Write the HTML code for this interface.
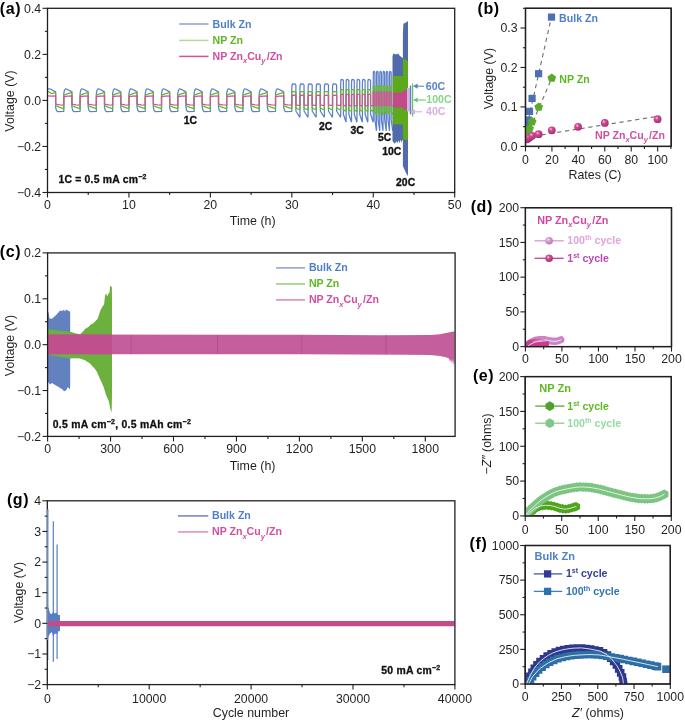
<!DOCTYPE html>
<html><head><meta charset="utf-8"><style>
html,body{margin:0;padding:0;background:#fff;}
svg{display:block;font-family:"Liberation Sans", sans-serif;will-change:transform;}
</style></head><body>
<svg width="685" height="722" viewBox="0 0 685 722">
<rect width="685" height="722" fill="#fff"/>
<defs>
<clipPath id="clipd"><rect x="525.4" y="207.7" width="146" height="138.9"/></clipPath><clipPath id="clipe"><rect x="525.2" y="376.6" width="146" height="139.3"/></clipPath><clipPath id="clipf"><rect x="525.2" y="545.5" width="145" height="138.5"/></clipPath>
<clipPath id="clipb"><rect x="525.5" y="8.3" width="145.7" height="138.1"/></clipPath>
<clipPath id="clipa"><rect x="47.5" y="8.3" width="407.2" height="184.2"/></clipPath>
<radialGradient id="gp" cx="0.38" cy="0.35" r="0.65"><stop offset="0" stop-color="#f5c9e2"/><stop offset="0.35" stop-color="#cf4a96"/><stop offset="1" stop-color="#a8306f"/></radialGradient>
<radialGradient id="glp" cx="0.38" cy="0.35" r="0.65"><stop offset="0" stop-color="#fbe8f6"/><stop offset="0.35" stop-color="#d99bd6"/><stop offset="1" stop-color="#bf78b9"/></radialGradient>
</defs><g clip-path="url(#clipa)">
<path d="M47.5 88.43 L47.5 88.43 L48.31 88.89 L49.13 88.89 L50.35 89 L55.64 91.88 L55.64 107.31 L56.46 110.55 L57.68 111.68 L63.79 111.34 L63.79 107.17 L63.79 93.49 L64.44 90.27 L65.42 88.89 L66.64 89 L71.93 91.88 L71.93 107.31 L72.75 110.55 L73.97 111.68 L80.08 111.34 L80.08 107.17 L80.08 93.49 L80.73 90.27 L81.7 88.89 L82.93 89 L88.22 91.88 L88.22 107.31 L89.03 110.55 L90.26 111.68 L96.36 111.34 L96.36 107.17 L96.36 93.49 L97.02 90.27 L97.99 88.89 L99.21 89 L104.51 91.88 L104.51 107.31 L105.32 110.55 L106.54 111.68 L112.65 111.34 L112.65 107.17 L112.65 93.49 L113.3 90.27 L114.28 88.89 L115.5 89 L120.8 91.88 L120.8 107.31 L121.61 110.55 L122.83 111.68 L128.94 111.34 L128.94 107.17 L128.94 93.49 L129.59 90.27 L130.57 88.89 L131.79 89 L137.08 91.88 L137.08 107.31 L137.9 110.55 L139.12 111.68 L145.23 111.34 L145.23 107.17 L145.23 93.49 L145.88 90.27 L146.86 88.89 L148.08 89 L153.37 91.88 L153.37 107.31 L154.19 110.55 L155.41 111.68 L161.52 111.34 L161.52 107.17 L161.52 93.49 L162.17 90.27 L163.14 88.89 L164.37 89 L169.66 91.88 L169.66 107.31 L170.47 110.55 L171.7 111.68 L177.8 111.34 L177.8 107.17 L177.8 93.49 L178.46 90.27 L179.43 88.89 L180.65 89 L185.95 91.88 L185.95 107.31 L186.76 110.55 L187.98 111.68 L194.09 111.34 L194.09 107.17 L194.09 93.49 L194.74 90.27 L195.72 88.89 L196.94 89 L202.24 91.88 L202.24 107.31 L203.05 110.55 L204.27 111.68 L210.38 111.34 L210.38 107.17 L210.38 93.49 L211.03 90.27 L212.01 88.89 L213.23 89 L218.52 91.88 L218.52 107.31 L219.34 110.55 L220.56 111.68 L226.67 111.34 L226.67 107.17 L226.67 93.49 L227.32 90.27 L228.3 88.89 L229.52 89 L234.81 91.88 L234.81 107.31 L235.63 110.55 L236.85 111.68 L242.96 111.34 L242.96 107.17 L242.96 93.49 L243.61 90.27 L244.58 88.89 L245.81 89 L251.1 91.88 L251.1 107.31 L251.91 110.55 L253.14 111.68 L259.24 111.34 L259.24 107.17 L259.24 93.49 L259.9 90.27 L260.87 88.89 L262.09 89 L267.39 91.88 L267.39 107.31 L268.2 110.55 L269.42 111.68 L275.53 111.34 L275.53 107.17 L275.53 93.49 L276.18 90.27 L277.16 88.89 L278.38 89 L283.68 91.88 L283.68 107.31 L284.49 110.55 L285.71 111.68 L291.82 111.34 L291.82 87.14 L292.15 84.32 L292.63 83.82 L295.28 84.07 L295.89 85.2 L295.89 110.99 L299.64 116.98 L299.96 116.65 L299.96 87.14 L300.29 84.32 L300.78 83.82 L303.43 84.07 L304.04 85.2 L304.04 110.99 L307.78 116.98 L308.11 116.65 L308.11 87.14 L308.43 84.32 L308.92 83.82 L311.57 84.07 L312.18 85.2 L312.18 110.99 L315.93 116.98 L316.25 116.65 L316.25 87.14 L316.58 84.32 L317.07 83.82 L319.71 84.07 L320.32 85.2 L320.32 110.99 L324.07 116.98 L324.4 116.65 L324.4 87.14 L324.72 84.32 L325.21 83.82 L327.86 84.07 L328.47 85.2 L328.47 110.99 L332.21 116.98 L332.54 116.65 L332.54 87.14 L332.87 84.32 L333.35 83.82 L336 84.07 L336.61 85.2 L336.61 110.99 L340.36 116.98 L340.68 116.65 L340.68 83.64 L340.9 80.08 L341.23 79.45 L342.99 79.76 L343.4 81.06 L343.4 114.22 L345.9 121.81 L346.11 121.38 L346.11 83.64 L346.33 80.08 L346.66 79.45 L348.42 79.76 L348.83 81.06 L348.83 114.22 L351.33 121.81 L351.54 121.38 L351.54 83.64 L351.76 80.08 L352.09 79.45 L353.85 79.76 L354.26 81.06 L354.26 114.22 L356.75 121.81 L356.97 121.38 L356.97 83.64 L357.19 80.08 L357.51 79.45 L359.28 79.76 L359.69 81.06 L359.69 114.22 L362.18 121.81 L362.4 121.38 L362.4 83.64 L362.62 80.08 L362.94 79.45 L364.71 79.76 L365.12 81.06 L365.12 114.22 L367.61 121.81 L367.83 121.38 L367.83 83.64 L368.05 80.08 L368.37 79.45 L370.14 79.76 L370.55 81.06 L370.55 114.22 L373.04 121.81 L373.26 121.38 L373.26 77.19 L373.39 72.26 L373.59 71.39 L374.64 71.82 L374.89 73.46 L374.89 119.97 L376.39 130.33 L376.52 129.73 L376.52 77.19 L376.65 72.26 L376.84 71.39 L377.9 71.82 L378.15 73.46 L378.15 119.97 L379.64 130.33 L379.78 129.73 L379.78 77.19 L379.91 72.26 L380.1 71.39 L381.16 71.82 L381.4 73.46 L381.4 119.97 L382.9 130.33 L383.03 129.73 L383.03 77.19 L383.16 72.26 L383.36 71.39 L384.42 71.82 L384.66 73.46 L384.66 119.97 L386.16 130.33 L386.29 129.73 L386.29 77.19 L386.42 72.26 L386.62 71.39 L387.67 71.82 L387.92 73.46 L387.92 119.97 L389.42 130.33 L389.55 129.73 L389.55 77.19 L389.68 72.26 L389.87 71.39 L390.93 71.82 L391.18 73.46 L391.18 119.97 L392.68 130.33 L392.81 129.73" stroke="#5b80c8" stroke-width="1.25" fill="none" stroke-linejoin="round"/>
<path d="M47.5 91.19 L47.91 91.19 L51.57 93.61 L55.64 92.57 L55.64 105.17 L55.97 105.7 L59.72 107.42 L63.79 108.69 L63.79 95.63 L64.11 95.1 L67.86 93.61 L71.93 92.57 L71.93 105.17 L72.26 105.7 L76 107.42 L80.08 108.69 L80.08 95.63 L80.4 95.1 L84.15 93.61 L88.22 92.57 L88.22 105.17 L88.55 105.7 L92.29 107.42 L96.36 108.69 L96.36 95.63 L96.69 95.1 L100.44 93.61 L104.51 92.57 L104.51 105.17 L104.83 105.7 L108.58 107.42 L112.65 108.69 L112.65 95.63 L112.98 95.1 L116.72 93.61 L120.8 92.57 L120.8 105.17 L121.12 105.7 L124.87 107.42 L128.94 108.69 L128.94 95.63 L129.27 95.1 L133.01 93.61 L137.08 92.57 L137.08 105.17 L137.41 105.7 L141.16 107.42 L145.23 108.69 L145.23 95.63 L145.55 95.1 L149.3 93.61 L153.37 92.57 L153.37 105.17 L153.7 105.7 L157.44 107.42 L161.52 108.69 L161.52 95.63 L161.84 95.1 L165.59 93.61 L169.66 92.57 L169.66 105.17 L169.99 105.7 L173.73 107.42 L177.8 108.69 L177.8 95.63 L178.13 95.1 L181.88 93.61 L185.95 92.57 L185.95 105.17 L186.27 105.7 L190.02 107.42 L194.09 108.69 L194.09 95.63 L194.42 95.1 L198.16 93.61 L202.24 92.57 L202.24 105.17 L202.56 105.7 L206.31 107.42 L210.38 108.69 L210.38 95.63 L210.71 95.1 L214.45 93.61 L218.52 92.57 L218.52 105.17 L218.85 105.7 L222.6 107.42 L226.67 108.69 L226.67 95.63 L226.99 95.1 L230.74 93.61 L234.81 92.57 L234.81 105.17 L235.14 105.7 L238.88 107.42 L242.96 108.69 L242.96 95.63 L243.28 95.1 L247.03 93.61 L251.1 92.57 L251.1 105.17 L251.43 105.7 L255.17 107.42 L259.24 108.69 L259.24 95.63 L259.57 95.1 L263.32 93.61 L267.39 92.57 L267.39 105.17 L267.71 105.7 L271.46 107.42 L275.53 108.69 L275.53 95.63 L275.86 95.1 L279.6 93.61 L283.68 92.57 L283.68 105.17 L284 105.7 L287.75 107.42 L291.82 108.69 L291.82 92.53 L291.98 91.65 L293.86 91.65 L295.89 92.11 L295.89 107.24 L296.05 108 L297.93 109.03 L299.96 109.61 L299.96 92.53 L300.13 91.65 L302 91.65 L304.04 92.11 L304.04 107.24 L304.2 108 L306.07 109.03 L308.11 109.61 L308.11 92.53 L308.27 91.65 L310.14 91.65 L312.18 92.11 L312.18 107.24 L312.34 108 L314.22 109.03 L316.25 109.61 L316.25 92.53 L316.41 91.65 L318.29 91.65 L320.32 92.11 L320.32 107.24 L320.49 108 L322.36 109.03 L324.4 109.61 L324.4 92.53 L324.56 91.65 L326.43 91.65 L328.47 92.11 L328.47 107.24 L328.63 108 L330.5 109.03 L332.54 109.61 L332.54 92.53 L332.7 91.65 L334.58 91.65 L336.61 92.11 L336.61 107.24 L336.77 108 L338.65 109.03 L340.68 109.61 L340.68 90.66 L340.79 89.58 L342.04 89.58 L343.4 90.04 L343.4 108.69 L343.51 109.61 L344.76 110.76 L346.11 111.45 L346.11 90.66 L346.22 89.58 L347.47 89.58 L348.83 90.04 L348.83 108.69 L348.94 109.61 L350.19 110.76 L351.54 111.45 L351.54 90.66 L351.65 89.58 L352.9 89.58 L354.26 90.04 L354.26 108.69 L354.37 109.61 L355.61 110.76 L356.97 111.45 L356.97 90.66 L357.08 89.58 L358.33 89.58 L359.69 90.04 L359.69 108.69 L359.8 109.61 L361.04 110.76 L362.4 111.45 L362.4 90.66 L362.51 89.58 L363.76 89.58 L365.12 90.04 L365.12 108.69 L365.22 109.61 L366.47 110.76 L367.83 111.45 L367.83 90.66 L367.94 89.58 L369.19 89.58 L370.55 90.04 L370.55 108.69 L370.65 109.61 L371.9 110.76 L373.26 111.45 L373.26 87.34 L373.33 85.89 L374.07 86.01 L374.89 86.59 L374.89 110.76 L374.95 111.91 L375.7 113.29 L376.52 114.22 L376.52 87.34 L376.58 85.89 L377.33 86.01 L378.15 86.59 L378.15 110.76 L378.21 111.91 L378.96 113.29 L379.78 114.22 L379.78 87.34 L379.84 85.89 L380.59 86.01 L381.4 86.59 L381.4 110.76 L381.47 111.91 L382.22 113.29 L383.03 114.22 L383.03 87.34 L383.1 85.89 L383.85 86.01 L384.66 86.59 L384.66 110.76 L384.73 111.91 L385.48 113.29 L386.29 114.22 L386.29 87.34 L386.36 85.89 L387.1 86.01 L387.92 86.59 L387.92 110.76 L387.98 111.91 L388.73 113.29 L389.55 114.22 L389.55 87.34 L389.61 85.89 L390.36 86.01 L391.18 86.59 L391.18 110.76 L391.24 111.91 L391.99 113.29 L392.81 114.22" stroke="#62b832" stroke-width="1.25" fill="none" stroke-linejoin="round"/>
<path d="M47.5 95.8 L47.91 95.8 L51.57 96.03 L55.64 95.8 L55.64 103.72 L55.97 104.08 L59.72 104.77 L63.79 105.01 L63.79 97.08 L64.11 96.72 L67.86 96.03 L71.93 95.8 L71.93 103.72 L72.26 104.08 L76 104.77 L80.08 105.01 L80.08 97.08 L80.4 96.72 L84.15 96.03 L88.22 95.8 L88.22 103.72 L88.55 104.08 L92.29 104.77 L96.36 105.01 L96.36 97.08 L96.69 96.72 L100.44 96.03 L104.51 95.8 L104.51 103.72 L104.83 104.08 L108.58 104.77 L112.65 105.01 L112.65 97.08 L112.98 96.72 L116.72 96.03 L120.8 95.8 L120.8 103.72 L121.12 104.08 L124.87 104.77 L128.94 105.01 L128.94 97.08 L129.27 96.72 L133.01 96.03 L137.08 95.8 L137.08 103.72 L137.41 104.08 L141.16 104.77 L145.23 105.01 L145.23 97.08 L145.55 96.72 L149.3 96.03 L153.37 95.8 L153.37 103.72 L153.7 104.08 L157.44 104.77 L161.52 105.01 L161.52 97.08 L161.84 96.72 L165.59 96.03 L169.66 95.8 L169.66 103.72 L169.99 104.08 L173.73 104.77 L177.8 105.01 L177.8 97.08 L178.13 96.72 L181.88 96.03 L185.95 95.8 L185.95 103.72 L186.27 104.08 L190.02 104.77 L194.09 105.01 L194.09 97.08 L194.42 96.72 L198.16 96.03 L202.24 95.8 L202.24 103.72 L202.56 104.08 L206.31 104.77 L210.38 105.01 L210.38 97.08 L210.71 96.72 L214.45 96.03 L218.52 95.8 L218.52 103.72 L218.85 104.08 L222.6 104.77 L226.67 105.01 L226.67 97.08 L226.99 96.72 L230.74 96.03 L234.81 95.8 L234.81 103.72 L235.14 104.08 L238.88 104.77 L242.96 105.01 L242.96 97.08 L243.28 96.72 L247.03 96.03 L251.1 95.8 L251.1 103.72 L251.43 104.08 L255.17 104.77 L259.24 105.01 L259.24 97.08 L259.57 96.72 L263.32 96.03 L267.39 95.8 L267.39 103.72 L267.71 104.08 L271.46 104.77 L275.53 105.01 L275.53 97.08 L275.86 96.72 L279.6 96.03 L283.68 95.8 L283.68 103.72 L284 104.08 L287.75 104.77 L291.82 105.01 L291.82 96.05 L291.98 95.56 L293.86 95.22 L295.89 95.33 L295.89 104.34 L296.05 104.77 L297.93 105.35 L299.96 105.47 L299.96 96.05 L300.13 95.56 L302 95.22 L304.04 95.33 L304.04 104.34 L304.2 104.77 L306.07 105.35 L308.11 105.47 L308.11 96.05 L308.27 95.56 L310.14 95.22 L312.18 95.33 L312.18 104.34 L312.34 104.77 L314.22 105.35 L316.25 105.47 L316.25 96.05 L316.41 95.56 L318.29 95.22 L320.32 95.33 L320.32 104.34 L320.49 104.77 L322.36 105.35 L324.4 105.47 L324.4 96.05 L324.56 95.56 L326.43 95.22 L328.47 95.33 L328.47 104.34 L328.63 104.77 L330.5 105.35 L332.54 105.47 L332.54 96.05 L332.7 95.56 L334.58 95.22 L336.61 95.33 L336.61 104.34 L336.77 104.77 L338.65 105.35 L340.68 105.47 L340.68 95.22 L340.79 94.64 L342.04 94.3 L343.4 94.41 L343.4 104.75 L343.51 105.24 L344.76 105.81 L346.11 105.93 L346.11 95.22 L346.22 94.64 L347.47 94.3 L348.83 94.41 L348.83 104.75 L348.94 105.24 L350.19 105.81 L351.54 105.93 L351.54 95.22 L351.65 94.64 L352.9 94.3 L354.26 94.41 L354.26 104.75 L354.37 105.24 L355.61 105.81 L356.97 105.93 L356.97 95.22 L357.08 94.64 L358.33 94.3 L359.69 94.41 L359.69 104.75 L359.8 105.24 L361.04 105.81 L362.4 105.93 L362.4 95.22 L362.51 94.64 L363.76 94.3 L365.12 94.41 L365.12 104.75 L365.22 105.24 L366.47 105.81 L367.83 105.93 L367.83 95.22 L367.94 94.64 L369.19 94.3 L370.55 94.41 L370.55 104.75 L370.65 105.24 L371.9 105.81 L373.26 105.93 L373.26 93.15 L373.33 92.34 L374.07 92 L374.89 92.11 L374.89 104.54 L374.95 105.01 L375.7 105.7 L376.52 105.93 L376.52 93.15 L376.58 92.34 L377.33 92 L378.15 92.11 L378.15 104.54 L378.21 105.01 L378.96 105.7 L379.78 105.93 L379.78 93.15 L379.84 92.34 L380.59 92 L381.4 92.11 L381.4 104.54 L381.47 105.01 L382.22 105.7 L383.03 105.93 L383.03 93.15 L383.1 92.34 L383.85 92 L384.66 92.11 L384.66 104.54 L384.73 105.01 L385.48 105.7 L386.29 105.93 L386.29 93.15 L386.36 92.34 L387.1 92 L387.92 92.11 L387.92 104.54 L387.98 105.01 L388.73 105.7 L389.55 105.93 L389.55 93.15 L389.61 92.34 L390.36 92 L391.18 92.11 L391.18 104.54 L391.24 105.01 L391.99 105.7 L392.81 105.93" stroke="#d2549c" stroke-width="1.25" fill="none" stroke-linejoin="round"/>
</g>
<path d="M392.5 56 L393.5 53.5 L396 54.5 L398 53.5 L400 56 L403.4 58.5 L403.4 140 L402 140.5 L401.2 142.5 L400.3 139.5 L399.5 143.3 L398.3 140.5 L397.3 143.6 L396.2 141 L395 143.8 L393.8 142.8 L392.5 141Z" fill="#506aab"/>
<path d="M402.9 33.8 L403.4 23.8 L406 22.5 L408 21.1 L408 176 L406 173 L402.9 166Z" fill="#506aab"/>
<path d="M392.8 76 L403.4 76 L403.4 124.4 L392.8 124.4Z" fill="#5caa1b"/>
<path d="M402.9 58.8 L405 59.2 L408 61.4 L408 139.8 L402.9 139.8Z" fill="#5caa1b"/>
<path d="M393.1 92.6 L395 92.3 L396.5 92.9 L398 92.3 L400 92.6 L401.5 92.1 L403.4 92.2 L403.4 107.6 L401 107.8 L399 107.3 L397 107.7 L395 107.4 L393.1 107.4Z" fill="#c04b88"/>
<path d="M403.1 90.2 L407.2 90.2 L407.2 109.7 L403.1 109.7Z" fill="#c04b88"/>
<path d="M407 88 L409.8 88 L409.8 111.5 L407 111.5Z" fill="#d6b2e2"/>
<line x1="410.5" y1="85.6" x2="410.5" y2="114.4" stroke="#5f82c4" stroke-width="1.5"/>
<line x1="412.6" y1="83.5" x2="412.6" y2="116.6" stroke="#6cbf6c" stroke-width="1.3"/>
<rect x="47.5" y="8.3" width="407.2" height="184.2" fill="none" stroke="#231f20" stroke-width="1.3"/>
<line x1="42.5" y1="192.5" x2="47.5" y2="192.5" stroke="#231f20" stroke-width="1.1"/>
<line x1="42.5" y1="146.45" x2="47.5" y2="146.45" stroke="#231f20" stroke-width="1.1"/>
<line x1="42.5" y1="100.4" x2="47.5" y2="100.4" stroke="#231f20" stroke-width="1.1"/>
<line x1="42.5" y1="54.35" x2="47.5" y2="54.35" stroke="#231f20" stroke-width="1.1"/>
<line x1="42.5" y1="8.3" x2="47.5" y2="8.3" stroke="#231f20" stroke-width="1.1"/>
<line x1="44.9" y1="169.47" x2="47.5" y2="169.47" stroke="#231f20" stroke-width="1.1"/>
<line x1="44.9" y1="123.42" x2="47.5" y2="123.42" stroke="#231f20" stroke-width="1.1"/>
<line x1="44.9" y1="77.38" x2="47.5" y2="77.38" stroke="#231f20" stroke-width="1.1"/>
<line x1="44.9" y1="31.33" x2="47.5" y2="31.33" stroke="#231f20" stroke-width="1.1"/>
<line x1="47.5" y1="192.5" x2="47.5" y2="197.5" stroke="#231f20" stroke-width="1.1"/>
<line x1="128.94" y1="192.5" x2="128.94" y2="197.5" stroke="#231f20" stroke-width="1.1"/>
<line x1="210.38" y1="192.5" x2="210.38" y2="197.5" stroke="#231f20" stroke-width="1.1"/>
<line x1="291.82" y1="192.5" x2="291.82" y2="197.5" stroke="#231f20" stroke-width="1.1"/>
<line x1="373.26" y1="192.5" x2="373.26" y2="197.5" stroke="#231f20" stroke-width="1.1"/>
<line x1="454.7" y1="192.5" x2="454.7" y2="197.5" stroke="#231f20" stroke-width="1.1"/>
<line x1="88.22" y1="192.5" x2="88.22" y2="195.1" stroke="#231f20" stroke-width="1.1"/>
<line x1="169.66" y1="192.5" x2="169.66" y2="195.1" stroke="#231f20" stroke-width="1.1"/>
<line x1="251.1" y1="192.5" x2="251.1" y2="195.1" stroke="#231f20" stroke-width="1.1"/>
<line x1="332.54" y1="192.5" x2="332.54" y2="195.1" stroke="#231f20" stroke-width="1.1"/>
<line x1="413.98" y1="192.5" x2="413.98" y2="195.1" stroke="#231f20" stroke-width="1.1"/>
<text x="41.2" y="12.6" font-size="12.3" text-anchor="end" fill="#231f20">0.4</text>
<text x="41.2" y="58.65" font-size="12.3" text-anchor="end" fill="#231f20">0.2</text>
<text x="41.2" y="104.7" font-size="12.3" text-anchor="end" fill="#231f20">0.0</text>
<text x="41.2" y="150.75" font-size="12.3" text-anchor="end" fill="#231f20">−0.2</text>
<text x="41.2" y="196.8" font-size="12.3" text-anchor="end" fill="#231f20">−0.4</text>
<text x="47.5" y="209" font-size="12.3" text-anchor="middle" fill="#231f20">0</text>
<text x="128.94" y="209" font-size="12.3" text-anchor="middle" fill="#231f20">10</text>
<text x="210.38" y="209" font-size="12.3" text-anchor="middle" fill="#231f20">20</text>
<text x="291.82" y="209" font-size="12.3" text-anchor="middle" fill="#231f20">30</text>
<text x="373.26" y="209" font-size="12.3" text-anchor="middle" fill="#231f20">40</text>
<text x="454.7" y="209" font-size="12.3" text-anchor="middle" fill="#231f20">50</text>
<text x="252.7" y="224.8" font-size="12.4" text-anchor="middle" fill="#231f20">Time (h)</text>
<text transform="translate(14.4,101) rotate(-90)" font-size="12.4" text-anchor="middle" fill="#231f20">Voltage (V)</text>
<text x="-0.3" y="13.8" font-size="16" font-weight="bold" letter-spacing="0.6" fill="#000">(a)</text>
<line x1="179.2" y1="24" x2="208.5" y2="24" stroke="#8ca2d3" stroke-width="1.5"/>
<text x="212.6" y="27.5" font-size="10.6" font-weight="bold" text-anchor="start" fill="#4f7fca">Bulk Zn</text>
<line x1="179.2" y1="40.4" x2="208.5" y2="40.4" stroke="#b0da95" stroke-width="1.5"/>
<text x="212.6" y="43.9" font-size="10.6" font-weight="bold" text-anchor="start" fill="#5cb91f">NP Zn</text>
<line x1="179.2" y1="56.4" x2="208.5" y2="56.4" stroke="#d25398" stroke-width="1.5"/>
<text x="212.6" y="59.9" font-size="10.6" font-weight="bold" text-anchor="start" fill="#d24ea0">NP Zn<tspan font-style="italic" font-size="7.5" dy="3.3">x</tspan><tspan dy="-3.3">Cu</tspan><tspan font-style="italic" font-size="7.5" dy="3.3">y</tspan><tspan dy="-3.3" dx="1.2">/Zn</tspan></text>
<text x="183.7" y="124" font-size="10.4" font-weight="bold" text-anchor="start" fill="#111" stroke="#111" stroke-width="0.35">1C</text>
<text x="319" y="129.6" font-size="10.4" font-weight="bold" text-anchor="start" fill="#111" stroke="#111" stroke-width="0.35">2C</text>
<text x="350.6" y="133.7" font-size="10.4" font-weight="bold" text-anchor="start" fill="#111" stroke="#111" stroke-width="0.35">3C</text>
<text x="377.9" y="140.5" font-size="10.4" font-weight="bold" text-anchor="start" fill="#111" stroke="#111" stroke-width="0.35">5C</text>
<text x="382.3" y="155" font-size="10.4" font-weight="bold" text-anchor="start" fill="#111" stroke="#111" stroke-width="0.35">10C</text>
<text x="396.1" y="185.8" font-size="10.4" font-weight="bold" text-anchor="start" fill="#111" stroke="#111" stroke-width="0.35">20C</text>
<text x="58.4" y="182.7" font-size="10.4" font-weight="bold" text-anchor="start" fill="#111" textLength="88" lengthAdjust="spacing" stroke="#111" stroke-width="0.3">1C = 0.5 mA cm<tspan font-size="7" dy="-4">−2</tspan></text>
<line x1="414.1" y1="86.2" x2="424.1" y2="86.2" stroke="#5f82c4" stroke-width="1.1"/>
<path d="M413.1 86.2 L417.6 83.6 L417.6 88.8 Z" fill="#5f82c4"/>
<line x1="414.1" y1="100" x2="425.8" y2="100" stroke="#72c472" stroke-width="1.1"/>
<path d="M413.1 100 L417.6 97.4 L417.6 102.6 Z" fill="#72c472"/>
<line x1="411.5" y1="111.8" x2="422.3" y2="111.8" stroke="#dbaee3" stroke-width="1.1"/>
<path d="M410.5 111.8 L415 109.2 L415 114.4 Z" fill="#dbaee3"/>
<text x="425.8" y="89.9" font-size="10.6" font-weight="bold" text-anchor="start" fill="#5682c9">60C</text>
<text x="426.3" y="103.1" font-size="10.6" font-weight="bold" text-anchor="start" fill="#86d686">100C</text>
<text x="426" y="115.4" font-size="10.6" font-weight="bold" text-anchor="start" fill="#dcaee6">40C</text>
<rect x="525.5" y="8.3" width="145.7" height="138.1" fill="none" stroke="#231f20" stroke-width="1.3"/>
<line x1="520.5" y1="146.4" x2="525.5" y2="146.4" stroke="#231f20" stroke-width="1.1"/>
<line x1="520.5" y1="106.94" x2="525.5" y2="106.94" stroke="#231f20" stroke-width="1.1"/>
<line x1="520.5" y1="67.48" x2="525.5" y2="67.48" stroke="#231f20" stroke-width="1.1"/>
<line x1="520.5" y1="28.02" x2="525.5" y2="28.02" stroke="#231f20" stroke-width="1.1"/>
<line x1="522.9" y1="126.67" x2="525.5" y2="126.67" stroke="#231f20" stroke-width="1.1"/>
<line x1="522.9" y1="87.21" x2="525.5" y2="87.21" stroke="#231f20" stroke-width="1.1"/>
<line x1="522.9" y1="47.75" x2="525.5" y2="47.75" stroke="#231f20" stroke-width="1.1"/>
<line x1="522.9" y1="8.29" x2="525.5" y2="8.29" stroke="#231f20" stroke-width="1.1"/>
<line x1="525.5" y1="146.4" x2="525.5" y2="151.4" stroke="#231f20" stroke-width="1.1"/>
<line x1="551.93" y1="146.4" x2="551.93" y2="151.4" stroke="#231f20" stroke-width="1.1"/>
<line x1="578.36" y1="146.4" x2="578.36" y2="151.4" stroke="#231f20" stroke-width="1.1"/>
<line x1="604.79" y1="146.4" x2="604.79" y2="151.4" stroke="#231f20" stroke-width="1.1"/>
<line x1="631.22" y1="146.4" x2="631.22" y2="151.4" stroke="#231f20" stroke-width="1.1"/>
<line x1="657.65" y1="146.4" x2="657.65" y2="151.4" stroke="#231f20" stroke-width="1.1"/>
<line x1="538.72" y1="146.4" x2="538.72" y2="149" stroke="#231f20" stroke-width="1.1"/>
<line x1="565.14" y1="146.4" x2="565.14" y2="149" stroke="#231f20" stroke-width="1.1"/>
<line x1="591.58" y1="146.4" x2="591.58" y2="149" stroke="#231f20" stroke-width="1.1"/>
<line x1="618" y1="146.4" x2="618" y2="149" stroke="#231f20" stroke-width="1.1"/>
<line x1="644.43" y1="146.4" x2="644.43" y2="149" stroke="#231f20" stroke-width="1.1"/>
<line x1="670.87" y1="146.4" x2="670.87" y2="149" stroke="#231f20" stroke-width="1.1"/>
<text x="517.6" y="150.7" font-size="12.3" text-anchor="end" fill="#231f20">0.0</text>
<text x="517.6" y="111.24" font-size="12.3" text-anchor="end" fill="#231f20">0.1</text>
<text x="517.6" y="71.78" font-size="12.3" text-anchor="end" fill="#231f20">0.2</text>
<text x="517.6" y="32.32" font-size="12.3" text-anchor="end" fill="#231f20">0.3</text>
<text x="525.5" y="163.8" font-size="12.3" text-anchor="middle" fill="#231f20">0</text>
<text x="551.93" y="163.8" font-size="12.3" text-anchor="middle" fill="#231f20">20</text>
<text x="578.36" y="163.8" font-size="12.3" text-anchor="middle" fill="#231f20">40</text>
<text x="604.79" y="163.8" font-size="12.3" text-anchor="middle" fill="#231f20">60</text>
<text x="631.22" y="163.8" font-size="12.3" text-anchor="middle" fill="#231f20">80</text>
<text x="657.65" y="163.8" font-size="12.3" text-anchor="middle" fill="#231f20">100</text>
<text x="595" y="179.3" font-size="12.4" text-anchor="middle" fill="#231f20">Rates (C)</text>
<text transform="translate(492.8,78.6) rotate(-90)" font-size="12.4" text-anchor="middle" fill="#231f20">Voltage (V)</text>
<text x="477.5" y="13.6" font-size="16" font-weight="bold" letter-spacing="0.6" fill="#000">(b)</text>
<g clip-path="url(#clipb)">
<line x1="526.8" y1="126.7" x2="551.4" y2="17.1" stroke="#6d6d6d" stroke-width="1.1" stroke-dasharray="4.2,3.7"/>
<line x1="526.8" y1="136" x2="551.8" y2="78.1" stroke="#6d6d6d" stroke-width="1.1" stroke-dasharray="4.2,3.7"/>
<line x1="526" y1="137.4" x2="657.6" y2="116.3" stroke="#6d6d6d" stroke-width="1.1" stroke-dasharray="4.2,3.7"/>
<rect x="523.2" y="123.1" width="7.2" height="7.2" fill="#4f6fb5"/>
<rect x="524.5" y="116.4" width="7.2" height="7.2" fill="#4f6fb5"/>
<rect x="525.9" y="107.8" width="7.2" height="7.2" fill="#4f6fb5"/>
<rect x="528.5" y="94.8" width="7.2" height="7.2" fill="#4f6fb5"/>
<rect x="535" y="70.1" width="7.2" height="7.2" fill="#4f6fb5"/>
<rect x="547.9" y="13.5" width="7.2" height="7.2" fill="#4f6fb5"/>
<path d="M526.8 130.4 L531.17 133.58 L529.5 138.72 L524.1 138.72 L522.43 133.58Z" fill="#5aab2a"/>
<path d="M528.1 127.4 L532.47 130.58 L530.8 135.72 L525.4 135.72 L523.73 130.58Z" fill="#5aab2a"/>
<path d="M529.5 124 L533.87 127.18 L532.2 132.32 L526.8 132.32 L525.13 127.18Z" fill="#5aab2a"/>
<path d="M532.1 117.1 L536.47 120.28 L534.8 125.42 L529.4 125.42 L527.73 120.28Z" fill="#5aab2a"/>
<path d="M538.7 102.5 L543.07 105.68 L541.4 110.82 L536 110.82 L534.33 105.68Z" fill="#5aab2a"/>
<path d="M551.8 73.5 L556.17 76.68 L554.5 81.82 L549.1 81.82 L547.43 76.68Z" fill="#5aab2a"/>
<circle cx="526.8" cy="139.3" r="3.9" fill="url(#gp)"/>
<circle cx="528.1" cy="138.5" r="3.9" fill="url(#gp)"/>
<circle cx="529.5" cy="137.6" r="3.9" fill="url(#gp)"/>
<circle cx="532.1" cy="135.8" r="3.9" fill="url(#gp)"/>
<circle cx="538.6" cy="134.2" r="3.9" fill="url(#gp)"/>
<circle cx="551.8" cy="130.3" r="3.9" fill="url(#gp)"/>
<circle cx="578.1" cy="126.8" r="3.9" fill="url(#gp)"/>
<circle cx="604.8" cy="122.9" r="3.9" fill="url(#gp)"/>
<circle cx="657.6" cy="119.2" r="3.9" fill="url(#gp)"/>
</g>
<rect x="525.5" y="8.3" width="145.7" height="138.1" fill="none" stroke="#231f20" stroke-width="1.3"/>
<text x="559.1" y="21.7" font-size="10.6" font-weight="bold" text-anchor="start" fill="#4f7fca">Bulk Zn</text>
<text x="559.3" y="82.5" font-size="10.6" font-weight="bold" text-anchor="start" fill="#5cb91f">NP Zn</text>
<text x="595" y="138.6" font-size="10.6" font-weight="bold" text-anchor="start" fill="#d24ea0">NP Zn<tspan font-style="italic" font-size="7.5" dy="3.3">x</tspan><tspan dy="-3.3">Cu</tspan><tspan font-style="italic" font-size="7.5" dy="3.3">y</tspan><tspan dy="-3.3" dx="1.2">/Zn</tspan></text>
<path d="M47.6 312.4 L48.5 312 L49.5 318.6 L52 318.8 L55 316 L58 313 L60 310.5 L62 311 L64 309.8 L65 311.5 L66 309.5 L68 310.5 L69.8 311.5 L70.2 312 L70.2 386 L69.8 389.5 L68 387 L66 390.5 L64 391.2 L62 389 L60 388 L58 386.5 L55 385 L52 383 L50 384.5 L48.5 382.2 L47.6 383Z" fill="#6481bf"/>
<path d="M47.6 328.6 L50 329.5 L55 330.3 L60 330.8 L65 331.2 L70 331.5 L75 333.2 L80 334.2 L83 331.5 L85 329 L88.3 327 L90.8 324.5 L93.3 323.2 L97.5 319.1 L99.5 313.3 L100.4 310.3 L102.5 306.6 L104.1 304.5 L105 295.4 L106.2 293.3 L107 296.6 L108.3 294.1 L109.5 292.5 L110 286.6 L110.8 285.8 L111.9 287.5 L112 300 L112 395 L111.6 412.5 L111 411 L110.3 409 L109 402 L107.5 398 L106 395 L104 388 L102 383 L100 379 L97 372 L95 369 L90 363.5 L85 360.2 L80 358.6 L75 358.3 L70 358.5 L65 357.5 L60 357 L55 356 L50 355.2 L47.6 354.7Z" fill="#6cb03e"/>
<path d="M47.6 334.6 L300 334.8 L380 335.2 L430 335.1 L440 334.2 L446 333 L452 331.8 L454.6 331.3 L454.6 362 L454 366 L453 359 L452 364 L451 359 L450 362 L449 358.6 L446 357.3 L440 356 L430 355 L404 354.7 L300 354.3 L47.6 354.3Z" fill="#c45f9c"/>
<path d="M47.6 334.6 L112 334.6 L112 354.3 L47.6 354.3Z" fill="#bf4f8d"/>
<line x1="131" y1="334.9" x2="131" y2="354.1" stroke="#b5488a" stroke-width="0.8"/>
<line x1="217.5" y1="334.9" x2="217.5" y2="354.1" stroke="#b5488a" stroke-width="0.8"/>
<line x1="301.8" y1="334.9" x2="301.8" y2="354.1" stroke="#b5488a" stroke-width="0.8"/>
<line x1="386.1" y1="334.9" x2="386.1" y2="354.1" stroke="#b5488a" stroke-width="0.8"/>
<rect x="47.6" y="252.9" width="407.5" height="183.5" fill="none" stroke="#231f20" stroke-width="1.3"/>
<line x1="42.6" y1="436.4" x2="47.6" y2="436.4" stroke="#231f20" stroke-width="1.1"/>
<line x1="42.6" y1="390.52" x2="47.6" y2="390.52" stroke="#231f20" stroke-width="1.1"/>
<line x1="42.6" y1="344.65" x2="47.6" y2="344.65" stroke="#231f20" stroke-width="1.1"/>
<line x1="42.6" y1="298.77" x2="47.6" y2="298.77" stroke="#231f20" stroke-width="1.1"/>
<line x1="42.6" y1="252.9" x2="47.6" y2="252.9" stroke="#231f20" stroke-width="1.1"/>
<line x1="45" y1="413.46" x2="47.6" y2="413.46" stroke="#231f20" stroke-width="1.1"/>
<line x1="45" y1="367.59" x2="47.6" y2="367.59" stroke="#231f20" stroke-width="1.1"/>
<line x1="45" y1="321.71" x2="47.6" y2="321.71" stroke="#231f20" stroke-width="1.1"/>
<line x1="45" y1="275.84" x2="47.6" y2="275.84" stroke="#231f20" stroke-width="1.1"/>
<line x1="47.6" y1="436.4" x2="47.6" y2="441.4" stroke="#231f20" stroke-width="1.1"/>
<line x1="110.55" y1="436.4" x2="110.55" y2="441.4" stroke="#231f20" stroke-width="1.1"/>
<line x1="173.5" y1="436.4" x2="173.5" y2="441.4" stroke="#231f20" stroke-width="1.1"/>
<line x1="236.45" y1="436.4" x2="236.45" y2="441.4" stroke="#231f20" stroke-width="1.1"/>
<line x1="299.4" y1="436.4" x2="299.4" y2="441.4" stroke="#231f20" stroke-width="1.1"/>
<line x1="362.35" y1="436.4" x2="362.35" y2="441.4" stroke="#231f20" stroke-width="1.1"/>
<line x1="425.29" y1="436.4" x2="425.29" y2="441.4" stroke="#231f20" stroke-width="1.1"/>
<line x1="79.07" y1="436.4" x2="79.07" y2="439" stroke="#231f20" stroke-width="1.1"/>
<line x1="142.02" y1="436.4" x2="142.02" y2="439" stroke="#231f20" stroke-width="1.1"/>
<line x1="204.97" y1="436.4" x2="204.97" y2="439" stroke="#231f20" stroke-width="1.1"/>
<line x1="267.92" y1="436.4" x2="267.92" y2="439" stroke="#231f20" stroke-width="1.1"/>
<line x1="330.87" y1="436.4" x2="330.87" y2="439" stroke="#231f20" stroke-width="1.1"/>
<line x1="393.82" y1="436.4" x2="393.82" y2="439" stroke="#231f20" stroke-width="1.1"/>
<text x="41.2" y="257.2" font-size="12.3" text-anchor="end" fill="#231f20">0.2</text>
<text x="41.2" y="303.07" font-size="12.3" text-anchor="end" fill="#231f20">0.1</text>
<text x="41.2" y="348.95" font-size="12.3" text-anchor="end" fill="#231f20">0.0</text>
<text x="41.2" y="394.82" font-size="12.3" text-anchor="end" fill="#231f20">−0.1</text>
<text x="41.2" y="440.7" font-size="12.3" text-anchor="end" fill="#231f20">−0.2</text>
<text x="47.6" y="453.4" font-size="12.3" text-anchor="middle" fill="#231f20">0</text>
<text x="110.55" y="453.4" font-size="12.3" text-anchor="middle" fill="#231f20">300</text>
<text x="173.5" y="453.4" font-size="12.3" text-anchor="middle" fill="#231f20">600</text>
<text x="236.45" y="453.4" font-size="12.3" text-anchor="middle" fill="#231f20">900</text>
<text x="299.4" y="453.4" font-size="12.3" text-anchor="middle" fill="#231f20">1200</text>
<text x="362.35" y="453.4" font-size="12.3" text-anchor="middle" fill="#231f20">1500</text>
<text x="425.29" y="453.4" font-size="12.3" text-anchor="middle" fill="#231f20">1800</text>
<text x="252.6" y="469.5" font-size="12.4" text-anchor="middle" fill="#231f20">Time (h)</text>
<text transform="translate(14.4,345.5) rotate(-90)" font-size="12.4" text-anchor="middle" fill="#231f20">Voltage (V)</text>
<text x="-0.3" y="256.9" font-size="16" font-weight="bold" letter-spacing="0.6" fill="#000">(c)</text>
<line x1="276.1" y1="267.9" x2="305" y2="267.9" stroke="#9aaeda" stroke-width="1.8"/>
<text x="308.9" y="271.4" font-size="10.6" font-weight="bold" text-anchor="start" fill="#4f7fca">Bulk Zn</text>
<line x1="276.1" y1="283.9" x2="305" y2="283.9" stroke="#a6d58c" stroke-width="1.8"/>
<text x="308.9" y="287.4" font-size="10.6" font-weight="bold" text-anchor="start" fill="#5cb91f">NP Zn</text>
<line x1="276.1" y1="299.9" x2="305" y2="299.9" stroke="#de98c4" stroke-width="1.8"/>
<text x="308.9" y="303.4" font-size="10.6" font-weight="bold" text-anchor="start" fill="#d24ea0">NP Zn<tspan font-style="italic" font-size="7.5" dy="3.3">x</tspan><tspan dy="-3.3">Cu</tspan><tspan font-style="italic" font-size="7.5" dy="3.3">y</tspan><tspan dy="-3.3" dx="1.2">/Zn</tspan></text>
<text x="52.8" y="428" font-size="10.4" font-weight="bold" text-anchor="start" fill="#111" textLength="138" lengthAdjust="spacing" stroke="#111" stroke-width="0.3">0.5 mA cm<tspan font-size="7" dy="-4">−2</tspan><tspan dy="4">, 0.5 mAh cm</tspan><tspan font-size="7" dy="-4">−2</tspan></text>
<path d="M47.5 607.6 L48.5 607.6 L50 613.4 L52 614 L53 612 L55 613.5 L56.5 612.5 L57.5 614.5 L58.2 614.9 L60 614.9 L60 631.3 L58.2 631.3 L57.5 633 L56.5 634 L55 633.5 L53 636 L52 632 L50 633.5 L48.5 636.5 L47.5 640Z" fill="#5a7cc2"/>
<line x1="47.8" y1="509" x2="47.8" y2="660" stroke="#5a7cc2" stroke-width="1.1"/>
<line x1="53.3" y1="521.2" x2="53.3" y2="661.8" stroke="#5a7cc2" stroke-width="1.2"/>
<line x1="57.1" y1="544.6" x2="57.1" y2="658.9" stroke="#5a7cc2" stroke-width="1.2"/>
<path d="M47.8 620.9 L454.4 620.9 L454.4 626.3 L47.8 626.3Z" fill="#c44b8a"/>
<rect x="47.3" y="500.8" width="407.6" height="183.8" fill="none" stroke="#231f20" stroke-width="1.3"/>
<line x1="47.5" y1="509.5" x2="47.5" y2="640" stroke="#6b88c8" stroke-width="1.3"/>
<line x1="42.3" y1="684.6" x2="47.3" y2="684.6" stroke="#231f20" stroke-width="1.1"/>
<line x1="42.3" y1="653.97" x2="47.3" y2="653.97" stroke="#231f20" stroke-width="1.1"/>
<line x1="42.3" y1="623.33" x2="47.3" y2="623.33" stroke="#231f20" stroke-width="1.1"/>
<line x1="42.3" y1="592.7" x2="47.3" y2="592.7" stroke="#231f20" stroke-width="1.1"/>
<line x1="42.3" y1="562.07" x2="47.3" y2="562.07" stroke="#231f20" stroke-width="1.1"/>
<line x1="42.3" y1="531.43" x2="47.3" y2="531.43" stroke="#231f20" stroke-width="1.1"/>
<line x1="42.3" y1="500.8" x2="47.3" y2="500.8" stroke="#231f20" stroke-width="1.1"/>
<line x1="44.7" y1="669.28" x2="47.3" y2="669.28" stroke="#231f20" stroke-width="1.1"/>
<line x1="44.7" y1="638.65" x2="47.3" y2="638.65" stroke="#231f20" stroke-width="1.1"/>
<line x1="44.7" y1="608.02" x2="47.3" y2="608.02" stroke="#231f20" stroke-width="1.1"/>
<line x1="44.7" y1="577.38" x2="47.3" y2="577.38" stroke="#231f20" stroke-width="1.1"/>
<line x1="44.7" y1="546.75" x2="47.3" y2="546.75" stroke="#231f20" stroke-width="1.1"/>
<line x1="44.7" y1="516.12" x2="47.3" y2="516.12" stroke="#231f20" stroke-width="1.1"/>
<line x1="47.3" y1="684.6" x2="47.3" y2="689.6" stroke="#231f20" stroke-width="1.1"/>
<line x1="149.2" y1="684.6" x2="149.2" y2="689.6" stroke="#231f20" stroke-width="1.1"/>
<line x1="251.1" y1="684.6" x2="251.1" y2="689.6" stroke="#231f20" stroke-width="1.1"/>
<line x1="353" y1="684.6" x2="353" y2="689.6" stroke="#231f20" stroke-width="1.1"/>
<line x1="454.9" y1="684.6" x2="454.9" y2="689.6" stroke="#231f20" stroke-width="1.1"/>
<line x1="98.25" y1="684.6" x2="98.25" y2="687.2" stroke="#231f20" stroke-width="1.1"/>
<line x1="200.15" y1="684.6" x2="200.15" y2="687.2" stroke="#231f20" stroke-width="1.1"/>
<line x1="302.05" y1="684.6" x2="302.05" y2="687.2" stroke="#231f20" stroke-width="1.1"/>
<line x1="403.95" y1="684.6" x2="403.95" y2="687.2" stroke="#231f20" stroke-width="1.1"/>
<text x="41.2" y="505.1" font-size="12.3" text-anchor="end" fill="#231f20">4</text>
<text x="41.2" y="535.73" font-size="12.3" text-anchor="end" fill="#231f20">3</text>
<text x="41.2" y="566.37" font-size="12.3" text-anchor="end" fill="#231f20">2</text>
<text x="41.2" y="597" font-size="12.3" text-anchor="end" fill="#231f20">1</text>
<text x="41.2" y="627.63" font-size="12.3" text-anchor="end" fill="#231f20">0</text>
<text x="41.2" y="658.27" font-size="12.3" text-anchor="end" fill="#231f20">−1</text>
<text x="41.2" y="688.9" font-size="12.3" text-anchor="end" fill="#231f20">−2</text>
<text x="47.3" y="702.5" font-size="12.3" text-anchor="middle" fill="#231f20">0</text>
<text x="149.2" y="702.5" font-size="12.3" text-anchor="middle" fill="#231f20">10000</text>
<text x="251.1" y="702.5" font-size="12.3" text-anchor="middle" fill="#231f20">20000</text>
<text x="353" y="702.5" font-size="12.3" text-anchor="middle" fill="#231f20">30000</text>
<text x="454.9" y="702.5" font-size="12.3" text-anchor="middle" fill="#231f20">40000</text>
<text x="251" y="717.4" font-size="12.4" text-anchor="middle" fill="#231f20">Cycle number</text>
<text transform="translate(23.3,592.4) rotate(-90)" font-size="12.4" text-anchor="middle" fill="#231f20">Voltage (V)</text>
<text x="6.9" y="505.3" font-size="16" font-weight="bold" letter-spacing="0.6" fill="#000">(g)</text>
<line x1="178" y1="515.9" x2="208.3" y2="515.9" stroke="#8498cc" stroke-width="1.8"/>
<text x="212" y="519.4" font-size="10.6" font-weight="bold" text-anchor="start" fill="#4f7fca">Bulk Zn</text>
<line x1="178" y1="531.9" x2="208.3" y2="531.9" stroke="#e0a0c8" stroke-width="1.8"/>
<text x="212" y="535.4" font-size="10.6" font-weight="bold" text-anchor="start" fill="#d24ea0">NP Zn<tspan font-style="italic" font-size="7.5" dy="3.3">x</tspan><tspan dy="-3.3">Cu</tspan><tspan font-style="italic" font-size="7.5" dy="3.3">y</tspan><tspan dy="-3.3" dx="1.2">/Zn</tspan></text>
<text x="381.2" y="673.8" font-size="10.4" font-weight="bold" text-anchor="start" fill="#111" textLength="59" lengthAdjust="spacing" stroke="#111" stroke-width="0.3">50 mA cm<tspan font-size="7" dy="-4">−2</tspan></text>
<rect x="525.4" y="207.7" width="146.1" height="138.9" fill="none" stroke="#231f20" stroke-width="1.3"/>
<line x1="520.4" y1="346.6" x2="525.4" y2="346.6" stroke="#231f20" stroke-width="1.1"/>
<line x1="520.4" y1="311.88" x2="525.4" y2="311.88" stroke="#231f20" stroke-width="1.1"/>
<line x1="520.4" y1="277.15" x2="525.4" y2="277.15" stroke="#231f20" stroke-width="1.1"/>
<line x1="520.4" y1="242.43" x2="525.4" y2="242.43" stroke="#231f20" stroke-width="1.1"/>
<line x1="520.4" y1="207.7" x2="525.4" y2="207.7" stroke="#231f20" stroke-width="1.1"/>
<line x1="522.8" y1="329.24" x2="525.4" y2="329.24" stroke="#231f20" stroke-width="1.1"/>
<line x1="522.8" y1="294.51" x2="525.4" y2="294.51" stroke="#231f20" stroke-width="1.1"/>
<line x1="522.8" y1="259.79" x2="525.4" y2="259.79" stroke="#231f20" stroke-width="1.1"/>
<line x1="522.8" y1="225.06" x2="525.4" y2="225.06" stroke="#231f20" stroke-width="1.1"/>
<line x1="525.4" y1="346.6" x2="525.4" y2="351.6" stroke="#231f20" stroke-width="1.1"/>
<line x1="561.92" y1="346.6" x2="561.92" y2="351.6" stroke="#231f20" stroke-width="1.1"/>
<line x1="598.45" y1="346.6" x2="598.45" y2="351.6" stroke="#231f20" stroke-width="1.1"/>
<line x1="634.98" y1="346.6" x2="634.98" y2="351.6" stroke="#231f20" stroke-width="1.1"/>
<line x1="671.5" y1="346.6" x2="671.5" y2="351.6" stroke="#231f20" stroke-width="1.1"/>
<line x1="543.66" y1="346.6" x2="543.66" y2="349.2" stroke="#231f20" stroke-width="1.1"/>
<line x1="580.19" y1="346.6" x2="580.19" y2="349.2" stroke="#231f20" stroke-width="1.1"/>
<line x1="616.71" y1="346.6" x2="616.71" y2="349.2" stroke="#231f20" stroke-width="1.1"/>
<line x1="653.24" y1="346.6" x2="653.24" y2="349.2" stroke="#231f20" stroke-width="1.1"/>
<text x="519.2" y="350.9" font-size="12.3" text-anchor="end" fill="#231f20">0</text>
<text x="519.2" y="316.18" font-size="12.3" text-anchor="end" fill="#231f20">50</text>
<text x="519.2" y="281.45" font-size="12.3" text-anchor="end" fill="#231f20">100</text>
<text x="519.2" y="246.73" font-size="12.3" text-anchor="end" fill="#231f20">150</text>
<text x="519.2" y="212" font-size="12.3" text-anchor="end" fill="#231f20">200</text>
<text x="525.4" y="362.8" font-size="12.3" text-anchor="middle" fill="#231f20">0</text>
<text x="561.92" y="362.8" font-size="12.3" text-anchor="middle" fill="#231f20">50</text>
<text x="598.45" y="362.8" font-size="12.3" text-anchor="middle" fill="#231f20">100</text>
<text x="634.98" y="362.8" font-size="12.3" text-anchor="middle" fill="#231f20">150</text>
<text x="671.5" y="362.8" font-size="12.3" text-anchor="middle" fill="#231f20">200</text>
<text x="470.7" y="211.6" font-size="16" font-weight="bold" letter-spacing="0.6" fill="#000">(d)</text>
<rect x="525.2" y="376.6" width="146.1" height="139.3" fill="none" stroke="#231f20" stroke-width="1.3"/>
<line x1="520.2" y1="515.9" x2="525.2" y2="515.9" stroke="#231f20" stroke-width="1.1"/>
<line x1="520.2" y1="481.07" x2="525.2" y2="481.07" stroke="#231f20" stroke-width="1.1"/>
<line x1="520.2" y1="446.25" x2="525.2" y2="446.25" stroke="#231f20" stroke-width="1.1"/>
<line x1="520.2" y1="411.43" x2="525.2" y2="411.43" stroke="#231f20" stroke-width="1.1"/>
<line x1="520.2" y1="376.6" x2="525.2" y2="376.6" stroke="#231f20" stroke-width="1.1"/>
<line x1="522.6" y1="498.49" x2="525.2" y2="498.49" stroke="#231f20" stroke-width="1.1"/>
<line x1="522.6" y1="463.66" x2="525.2" y2="463.66" stroke="#231f20" stroke-width="1.1"/>
<line x1="522.6" y1="428.84" x2="525.2" y2="428.84" stroke="#231f20" stroke-width="1.1"/>
<line x1="522.6" y1="394.01" x2="525.2" y2="394.01" stroke="#231f20" stroke-width="1.1"/>
<line x1="525.2" y1="515.9" x2="525.2" y2="520.9" stroke="#231f20" stroke-width="1.1"/>
<line x1="561.73" y1="515.9" x2="561.73" y2="520.9" stroke="#231f20" stroke-width="1.1"/>
<line x1="598.25" y1="515.9" x2="598.25" y2="520.9" stroke="#231f20" stroke-width="1.1"/>
<line x1="634.77" y1="515.9" x2="634.77" y2="520.9" stroke="#231f20" stroke-width="1.1"/>
<line x1="671.3" y1="515.9" x2="671.3" y2="520.9" stroke="#231f20" stroke-width="1.1"/>
<line x1="543.46" y1="515.9" x2="543.46" y2="518.5" stroke="#231f20" stroke-width="1.1"/>
<line x1="579.99" y1="515.9" x2="579.99" y2="518.5" stroke="#231f20" stroke-width="1.1"/>
<line x1="616.51" y1="515.9" x2="616.51" y2="518.5" stroke="#231f20" stroke-width="1.1"/>
<line x1="653.04" y1="515.9" x2="653.04" y2="518.5" stroke="#231f20" stroke-width="1.1"/>
<text x="519.2" y="520.2" font-size="12.3" text-anchor="end" fill="#231f20">0</text>
<text x="519.2" y="485.38" font-size="12.3" text-anchor="end" fill="#231f20">50</text>
<text x="519.2" y="450.55" font-size="12.3" text-anchor="end" fill="#231f20">100</text>
<text x="519.2" y="415.73" font-size="12.3" text-anchor="end" fill="#231f20">150</text>
<text x="519.2" y="380.9" font-size="12.3" text-anchor="end" fill="#231f20">200</text>
<text x="525.2" y="534.1" font-size="12.3" text-anchor="middle" fill="#231f20">0</text>
<text x="561.73" y="534.1" font-size="12.3" text-anchor="middle" fill="#231f20">50</text>
<text x="598.25" y="534.1" font-size="12.3" text-anchor="middle" fill="#231f20">100</text>
<text x="634.77" y="534.1" font-size="12.3" text-anchor="middle" fill="#231f20">150</text>
<text x="671.3" y="534.1" font-size="12.3" text-anchor="middle" fill="#231f20">200</text>
<text x="472.9" y="380.6" font-size="16" font-weight="bold" letter-spacing="0.6" fill="#000">(e)</text>
<rect x="525.2" y="545.5" width="145.1" height="138.5" fill="none" stroke="#231f20" stroke-width="1.3"/>
<line x1="520.2" y1="684" x2="525.2" y2="684" stroke="#231f20" stroke-width="1.1"/>
<line x1="520.2" y1="649.38" x2="525.2" y2="649.38" stroke="#231f20" stroke-width="1.1"/>
<line x1="520.2" y1="614.75" x2="525.2" y2="614.75" stroke="#231f20" stroke-width="1.1"/>
<line x1="520.2" y1="580.12" x2="525.2" y2="580.12" stroke="#231f20" stroke-width="1.1"/>
<line x1="520.2" y1="545.5" x2="525.2" y2="545.5" stroke="#231f20" stroke-width="1.1"/>
<line x1="522.6" y1="666.69" x2="525.2" y2="666.69" stroke="#231f20" stroke-width="1.1"/>
<line x1="522.6" y1="632.06" x2="525.2" y2="632.06" stroke="#231f20" stroke-width="1.1"/>
<line x1="522.6" y1="597.44" x2="525.2" y2="597.44" stroke="#231f20" stroke-width="1.1"/>
<line x1="522.6" y1="562.81" x2="525.2" y2="562.81" stroke="#231f20" stroke-width="1.1"/>
<line x1="525.2" y1="684" x2="525.2" y2="689" stroke="#231f20" stroke-width="1.1"/>
<line x1="561.48" y1="684" x2="561.48" y2="689" stroke="#231f20" stroke-width="1.1"/>
<line x1="597.75" y1="684" x2="597.75" y2="689" stroke="#231f20" stroke-width="1.1"/>
<line x1="634.02" y1="684" x2="634.02" y2="689" stroke="#231f20" stroke-width="1.1"/>
<line x1="670.3" y1="684" x2="670.3" y2="689" stroke="#231f20" stroke-width="1.1"/>
<line x1="543.34" y1="684" x2="543.34" y2="686.6" stroke="#231f20" stroke-width="1.1"/>
<line x1="579.61" y1="684" x2="579.61" y2="686.6" stroke="#231f20" stroke-width="1.1"/>
<line x1="615.89" y1="684" x2="615.89" y2="686.6" stroke="#231f20" stroke-width="1.1"/>
<line x1="652.16" y1="684" x2="652.16" y2="686.6" stroke="#231f20" stroke-width="1.1"/>
<text x="519.2" y="688.3" font-size="12.3" text-anchor="end" fill="#231f20">0</text>
<text x="519.2" y="653.67" font-size="12.3" text-anchor="end" fill="#231f20">250</text>
<text x="519.2" y="619.05" font-size="12.3" text-anchor="end" fill="#231f20">500</text>
<text x="519.2" y="584.42" font-size="12.3" text-anchor="end" fill="#231f20">750</text>
<text x="519.2" y="549.8" font-size="12.3" text-anchor="end" fill="#231f20">1000</text>
<text x="525.2" y="701.1" font-size="12.3" text-anchor="middle" fill="#231f20">0</text>
<text x="561.48" y="701.1" font-size="12.3" text-anchor="middle" fill="#231f20">250</text>
<text x="597.75" y="701.1" font-size="12.3" text-anchor="middle" fill="#231f20">500</text>
<text x="634.02" y="701.1" font-size="12.3" text-anchor="middle" fill="#231f20">750</text>
<text x="670.3" y="701.1" font-size="12.3" text-anchor="middle" fill="#231f20">1000</text>
<text x="469.6" y="548.6" font-size="16" font-weight="bold" letter-spacing="0.6" fill="#000">(f)</text>
<text transform="translate(491.2,444) rotate(-90)" font-size="12.4" text-anchor="middle" fill="#231f20">−<tspan font-style="italic">Z″</tspan> (ohms)</text>
<text x="598" y="716.9" font-size="12.4" text-anchor="middle" fill="#231f20"><tspan font-style="italic">Z′</tspan> (ohms)</text>
<g clip-path="url(#clipd)">
<path d="M525.2 347.5 L528 344.6 L531 342.3 L535 340.4 L540 339.6 L545 339.7 L550 340.9 L555 341.4 L558.5 340.8 L560.8 339.8" stroke="#cd82c8" stroke-width="7.2" fill="none" stroke-linejoin="round" stroke-linecap="round"/>
<path d="M525.2 347.5 L528 344.6 L531 342.3 L535 340.4 L540 339.6 L545 339.7 L550 340.9 L555 341.4 L558.5 340.8 L560.8 339.8" stroke="#ffffff" stroke-width="0.9" fill="none" stroke-linejoin="round" stroke-linecap="round" opacity="0.9"/>
<path d="M525.6 346.6 L525.6 342.5 L528 340.6 L532 339.6 L536 339.3 L540 339.3 L545 339.7 L548 340.4 L548.9 342 L548.9 346.6Z" fill="#c63d8e"/>
<path d="M527.8 346.3 L531 343.9 L535 342.1 L540 341.3 L544 341 L547.3 340.6" stroke="#ffffff" stroke-width="0.9" fill="none" stroke-linejoin="round" stroke-linecap="round" opacity="0.85"/>
<path d="M533 341.4 L538 340.6 L542 340.5" stroke="#ffffff" stroke-width="0.7" fill="none" stroke-linejoin="round" stroke-linecap="round" opacity="0.6"/>
</g>
<g clip-path="url(#clipe)">
<path d="M527.5 515.2 L530 512.6 L535 508.3 L540 506.1 L545 505.3 L550 505.5 L555 506.6 L560 508.3 L565 509.2 L570 508.4 L573.5 507.2 L576 506.6" stroke="#50a51e" stroke-width="7.0" fill="none" stroke-linejoin="round" stroke-linecap="round"/>
<path d="M527.5 510.5L531.57 512.85L531.57 517.55L527.5 519.9L523.43 517.55L523.43 512.85ZM529.58 508.34L533.65 510.69L533.65 515.39L529.58 517.74L525.51 515.39L525.51 510.69ZM531.81 506.34L535.88 508.69L535.88 513.39L531.81 515.74L527.74 513.39L527.74 508.69ZM534.09 504.38L538.16 506.73L538.16 511.43L534.09 513.78L530.02 511.43L530.02 506.73ZM536.65 502.88L540.72 505.23L540.72 509.93L536.65 512.28L532.58 509.93L532.58 505.23ZM539.39 501.67L543.46 504.02L543.46 508.72L539.39 511.07L535.32 508.72L535.32 504.02ZM542.31 501.03L546.38 503.38L546.38 508.08L542.31 510.43L538.24 508.08L538.24 503.38ZM545.27 500.61L549.34 502.96L549.34 507.66L545.27 510.01L541.2 507.66L541.2 502.96ZM548.27 500.73L552.34 503.08L552.34 507.78L548.27 510.13L544.2 507.78L544.2 503.08ZM551.24 501.07L555.31 503.42L555.31 508.12L551.24 510.47L547.17 508.12L547.17 503.42ZM554.17 501.72L558.24 504.07L558.24 508.77L554.17 511.12L550.1 508.77L550.1 504.07ZM557.03 502.59L561.1 504.94L561.1 509.64L557.03 511.99L552.96 509.64L552.96 504.94ZM559.87 503.56L563.94 505.91L563.94 510.61L559.87 512.96L555.8 510.61L555.8 505.91ZM562.82 504.11L566.89 506.46L566.89 511.16L562.82 513.51L558.75 511.16L558.75 506.46ZM565.78 504.38L569.85 506.73L569.85 511.43L565.78 513.78L561.71 511.43L561.71 506.73ZM568.74 503.9L572.81 506.25L572.81 510.95L568.74 513.3L564.67 510.95L564.67 506.25ZM571.63 503.14L575.7 505.49L575.7 510.19L571.63 512.54L567.56 510.19L567.56 505.49ZM574.5 502.26L578.57 504.61L578.57 509.31L574.5 511.66L570.42 509.31L570.42 504.61ZM576 501.9L580.07 504.25L580.07 508.95L576 511.3L571.93 508.95L571.93 504.25Z" fill="#50a51e"/>
<path d="M525.8 515 L530 510 L535 505.5 L540 501 L545 497.5 L550 494.5 L555 492 L560 490.5 L565 489.3 L570 488.3 L575 487.5 L580 486.9 L590 487.4 L600 489.3 L610 492 L620 494.7 L630 497.1 L640 498.7 L650 498.8 L655 498.1 L660 496.5 L664.2 494.3" stroke="#7dc382" stroke-width="7.0" fill="none" stroke-linejoin="round" stroke-linecap="round"/>
<path d="M525.8 510.1L530.04 512.55L530.04 517.45L525.8 519.9L521.56 517.45L521.56 512.55ZM527.73 507.8L531.97 510.25L531.97 515.15L527.73 517.6L523.49 515.15L523.49 510.25ZM529.66 505.51L533.9 507.96L533.9 512.86L529.66 515.31L525.42 512.86L525.42 507.96ZM531.84 503.45L536.08 505.9L536.08 510.8L531.84 513.25L527.59 510.8L527.59 505.9ZM534.07 501.44L538.31 503.89L538.31 508.79L534.07 511.24L529.82 508.79L529.82 503.89ZM536.3 499.43L540.54 501.88L540.54 506.78L536.3 509.23L532.05 506.78L532.05 501.88ZM538.53 497.43L542.77 499.88L542.77 504.78L538.53 507.23L534.28 504.78L534.28 499.88ZM540.83 495.52L545.08 497.97L545.08 502.87L540.83 505.32L536.59 502.87L536.59 497.97ZM543.29 493.8L547.53 496.25L547.53 501.15L543.29 503.6L539.05 501.15L539.05 496.25ZM545.78 492.13L550.03 494.58L550.03 499.48L545.78 501.93L541.54 499.48L541.54 494.58ZM548.36 490.59L552.6 493.04L552.6 497.94L548.36 500.39L544.11 497.94L544.11 493.04ZM550.97 489.12L555.21 491.57L555.21 496.47L550.97 498.92L546.72 496.47L546.72 491.57ZM553.65 487.77L557.89 490.22L557.89 495.12L553.65 497.57L549.41 495.12L549.41 490.22ZM556.43 486.67L560.67 489.12L560.67 494.02L556.43 496.47L552.19 494.02L552.19 489.12ZM559.3 485.81L563.55 488.26L563.55 493.16L559.3 495.61L555.06 493.16L555.06 488.26ZM562.21 485.07L566.45 487.52L566.45 492.42L562.21 494.87L557.97 492.42L557.97 487.52ZM565.13 484.37L569.37 486.82L569.37 491.72L565.13 494.17L560.88 491.72L560.88 486.82ZM568.07 483.79L572.31 486.24L572.31 491.14L568.07 493.59L563.83 491.14L563.83 486.24ZM571.02 483.24L575.26 485.69L575.26 490.59L571.02 493.04L566.77 490.59L566.77 485.69ZM573.98 482.76L578.22 485.21L578.22 490.11L573.98 492.56L569.74 490.11L569.74 485.21ZM576.95 482.37L581.2 484.82L581.2 489.72L576.95 492.17L572.71 489.72L572.71 484.82ZM579.93 482.01L584.18 484.46L584.18 489.36L579.93 491.81L575.69 489.36L575.69 484.46ZM582.93 482.15L587.17 484.6L587.17 489.5L582.93 491.95L578.68 489.5L578.68 484.6ZM585.92 482.3L590.17 484.75L590.17 489.65L585.92 492.1L581.68 489.65L581.68 484.75ZM588.92 482.45L593.16 484.9L593.16 489.8L588.92 492.25L584.68 489.8L584.68 484.9ZM591.89 482.86L596.13 485.31L596.13 490.21L591.89 492.66L587.64 490.21L587.64 485.31ZM594.83 483.42L599.08 485.87L599.08 490.77L594.83 493.22L590.59 490.77L590.59 485.87ZM597.78 483.98L602.02 486.43L602.02 491.33L597.78 493.78L593.54 491.33L593.54 486.43ZM600.71 484.59L604.96 487.04L604.96 491.94L600.71 494.39L596.47 491.94L596.47 487.04ZM603.61 485.37L607.85 487.82L607.85 492.72L603.61 495.17L599.37 492.72L599.37 487.82ZM606.51 486.16L610.75 488.61L610.75 493.51L606.51 495.96L602.26 493.51L602.26 488.61ZM609.4 486.94L613.65 489.39L613.65 494.29L609.4 496.74L605.16 494.29L605.16 489.39ZM612.3 487.72L616.54 490.17L616.54 495.07L612.3 497.52L608.06 495.07L608.06 490.17ZM615.2 488.5L619.44 490.95L619.44 495.85L615.2 498.3L610.95 495.85L610.95 490.95ZM618.09 489.28L622.34 491.73L622.34 496.63L618.09 499.08L613.85 496.63L613.85 491.73ZM621 490.04L625.24 492.49L625.24 497.39L621 499.84L616.75 497.39L616.75 492.49ZM623.91 490.74L628.16 493.19L628.16 498.09L623.91 500.54L619.67 498.09L619.67 493.19ZM626.83 491.44L631.07 493.89L631.07 498.79L626.83 501.24L622.59 498.79L622.59 493.89ZM629.75 492.14L633.99 494.59L633.99 499.49L629.75 501.94L625.5 499.49L625.5 494.59ZM632.71 492.63L636.95 495.08L636.95 499.98L632.71 502.43L628.46 499.98L628.46 495.08ZM635.67 493.11L639.91 495.56L639.91 500.46L635.67 502.91L631.42 500.46L631.42 495.56ZM638.63 493.58L642.87 496.03L642.87 500.93L638.63 503.38L634.39 500.93L634.39 496.03ZM641.61 493.82L645.86 496.27L645.86 501.17L641.61 503.62L637.37 501.17L637.37 496.27ZM644.61 493.85L648.86 496.3L648.86 501.2L644.61 503.65L640.37 501.2L640.37 496.3ZM647.61 493.88L651.86 496.33L651.86 501.23L647.61 503.68L643.37 501.23L643.37 496.33ZM650.61 493.82L654.85 496.27L654.85 501.17L650.61 503.62L646.36 501.17L646.36 496.27ZM653.58 493.4L657.82 495.85L657.82 500.75L653.58 503.2L649.33 500.75L649.33 495.85ZM656.49 492.72L660.73 495.17L660.73 500.07L656.49 502.52L652.25 500.07L652.25 495.17ZM659.35 491.81L663.59 494.26L663.59 499.16L659.35 501.61L655.1 499.16L655.1 494.26ZM662.05 490.53L666.29 492.98L666.29 497.88L662.05 500.33L657.81 497.88L657.81 492.98ZM664.2 489.4L668.44 491.85L668.44 496.75L664.2 499.2L659.96 496.75L659.96 491.85Z" fill="#7dc382"/>
<path d="M527.5 515.2 L530 512.6 L535 508.3 L540 506.1 L545 505.3 L550 505.5 L555 506.6 L560 508.3 L565 509.2 L570 508.4 L573.5 507.2 L576 506.6" stroke="#ffffff" stroke-width="0.9" fill="none" stroke-linejoin="round" stroke-linecap="round" opacity="0.85"/>
<path d="M525.8 515 L530 510 L535 505.5 L540 501 L545 497.5 L550 494.5 L555 492 L560 490.5 L565 489.3 L570 488.3 L575 487.5 L580 486.9 L590 487.4 L600 489.3 L610 492 L620 494.7 L630 497.1 L640 498.7 L650 498.8 L655 498.1 L660 496.5 L664.2 494.3" stroke="#ffffff" stroke-width="0.9" fill="none" stroke-linejoin="round" stroke-linecap="round" opacity="0.85"/>
</g>
<g clip-path="url(#clipf)">
<path d="M526.3 684.5 L527.3 682 L530.8 674.2 L535.1 667.1 L539.5 661.9 L543.9 658.4 L548.3 655.3 L552.6 653.1 L557 651.4 L561.4 650.1 L565.8 649.2 L570.2 648.5 L574.5 648.1 L581.5 647.9 L590 649 L600 651 L607 654.5 L612 659.5 L617 665.8 L620 671.3 L622.5 677.2 L623.6 684.5" stroke="#2d378c" stroke-width="6.0" fill="none" stroke-linejoin="round" stroke-linecap="butt"/>
<path d="M522.5 680.7h7.6v7.6h-7.6ZM524.24 676.55h7.6v7.6h-7.6ZM526.08 672.45h7.6v7.6h-7.6ZM528.17 668.47h7.6v7.6h-7.6ZM530.5 664.62h7.6v7.6h-7.6ZM533.21 661.04h7.6v7.6h-7.6ZM536.21 657.7h7.6v7.6h-7.6ZM539.73 654.9h7.6v7.6h-7.6ZM543.39 652.28h7.6v7.6h-7.6ZM547.3 650.07h7.6v7.6h-7.6ZM551.42 648.29h7.6v7.6h-7.6ZM555.69 646.86h7.6v7.6h-7.6ZM560.06 645.8h7.6v7.6h-7.6ZM564.48 645h7.6v7.6h-7.6ZM568.95 644.46h7.6v7.6h-7.6ZM573.44 644.22h7.6v7.6h-7.6ZM577.94 644.13h7.6v7.6h-7.6ZM582.4 644.71h7.6v7.6h-7.6ZM586.85 645.33h7.6v7.6h-7.6ZM591.27 646.21h7.6v7.6h-7.6ZM595.68 647.1h7.6v7.6h-7.6ZM599.75 648.98h7.6v7.6h-7.6ZM603.65 651.15h7.6v7.6h-7.6ZM606.84 654.34h7.6v7.6h-7.6ZM609.8 657.71h7.6v7.6h-7.6ZM612.6 661.24h7.6v7.6h-7.6ZM614.89 665.1h7.6v7.6h-7.6ZM616.89 669.12h7.6v7.6h-7.6ZM618.64 673.27h7.6v7.6h-7.6ZM619.35 677.71h7.6v7.6h-7.6ZM619.8 680.7h7.6v7.6h-7.6Z" fill="#2d378c"/>
<path d="M528.2 684.5 L528.6 683.8 L532.5 676.8 L539.5 668.9 L548.3 662.8 L557 658.8 L565.8 656.6 L574.5 655.3 L581.5 654.9 L590 654.5 L600 655 L620 658.6 L640 662.8 L657.5 666.6" stroke="#2d6ea5" stroke-width="6.0" fill="none" stroke-linejoin="round" stroke-linecap="butt"/>
<path d="M524.4 680.7h7.6v7.6h-7.6ZM526.6 676.77h7.6v7.6h-7.6ZM528.82 672.86h7.6v7.6h-7.6ZM531.8 669.5h7.6v7.6h-7.6ZM534.79 666.13h7.6v7.6h-7.6ZM538.27 663.32h7.6v7.6h-7.6ZM541.97 660.76h7.6v7.6h-7.6ZM545.79 658.41h7.6v7.6h-7.6ZM549.88 656.53h7.6v7.6h-7.6ZM554.02 654.8h7.6v7.6h-7.6ZM558.38 653.7h7.6v7.6h-7.6ZM562.76 652.69h7.6v7.6h-7.6ZM567.21 652.02h7.6v7.6h-7.6ZM571.67 651.44h7.6v7.6h-7.6ZM576.17 651.19h7.6v7.6h-7.6ZM580.66 650.96h7.6v7.6h-7.6ZM585.16 650.75h7.6v7.6h-7.6ZM589.65 650.87h7.6v7.6h-7.6ZM594.14 651.1h7.6v7.6h-7.6ZM598.6 651.63h7.6v7.6h-7.6ZM603.03 652.43h7.6v7.6h-7.6ZM607.46 653.23h7.6v7.6h-7.6ZM611.89 654.02h7.6v7.6h-7.6ZM616.32 654.82h7.6v7.6h-7.6ZM620.72 655.75h7.6v7.6h-7.6ZM625.13 656.67h7.6v7.6h-7.6ZM629.53 657.6h7.6v7.6h-7.6ZM633.93 658.52h7.6v7.6h-7.6ZM638.33 659.46h7.6v7.6h-7.6ZM642.73 660.42h7.6v7.6h-7.6ZM647.13 661.37h7.6v7.6h-7.6ZM651.53 662.33h7.6v7.6h-7.6ZM653.7 662.8h7.6v7.6h-7.6Z" fill="#2d6ea5"/>
<rect x="662.2" y="665.4" width="8.1" height="7.6" fill="#2d6ea5"/>
<path d="M526.3 684.5 L527.3 682 L530.8 674.2 L535.1 667.1 L539.5 661.9 L543.9 658.4 L548.3 655.3 L552.6 653.1 L557 651.4 L561.4 650.1 L565.8 649.2 L570.2 648.5 L574.5 648.1 L581.5 647.9 L590 649 L600 651 L607 654.5 L612 659.5 L617 665.8 L620 671.3 L622.5 677.2 L623.6 684.5" stroke="#ffffff" stroke-width="0.9" fill="none" stroke-linejoin="round" stroke-linecap="round" opacity="0.9"/>
<path d="M528.2 684.5 L528.6 683.8 L532.5 676.8 L539.5 668.9 L548.3 662.8 L557 658.8 L565.8 656.6 L574.5 655.3 L581.5 654.9 L590 654.5 L600 655 L620 658.6 L640 662.8 L657.5 666.6" stroke="#ffffff" stroke-width="0.9" fill="none" stroke-linejoin="round" stroke-linecap="round" opacity="0.9"/>
</g>
<rect x="525.4" y="207.7" width="146.1" height="138.9" fill="none" stroke="#231f20" stroke-width="1.3"/>
<rect x="525.2" y="376.6" width="146.1" height="139.3" fill="none" stroke="#231f20" stroke-width="1.3"/>
<rect x="525.2" y="545.5" width="145.1" height="138.5" fill="none" stroke="#231f20" stroke-width="1.3"/>
<text x="537.2" y="223.7" font-size="10.8" font-weight="bold" text-anchor="start" fill="#cf47a0">NP Zn<tspan font-style="italic" font-size="7.5" dy="3.3">x</tspan><tspan dy="-3.3">Cu</tspan><tspan font-style="italic" font-size="7.5" dy="3.3">y</tspan><tspan dy="-3.3" dx="1.2">/Zn</tspan></text>
<line x1="534.5" y1="240.8" x2="563.7" y2="240.8" stroke="#d79ad3" stroke-width="1.3"/>
<circle cx="549.1" cy="240.8" r="3.8" fill="url(#glp)"/>
<text x="567.3" y="244.4" font-size="10.6" font-weight="bold" text-anchor="start" fill="#e0a4de">100<tspan font-size="7" dy="-4">th</tspan><tspan dy="4"> cycle</tspan></text>
<line x1="534.5" y1="258.3" x2="563.7" y2="258.3" stroke="#c8418e" stroke-width="1.3"/>
<circle cx="549.1" cy="258.3" r="3.8" fill="url(#gp)"/>
<text x="567.3" y="261.9" font-size="10.6" font-weight="bold" text-anchor="start" fill="#b947b8">1<tspan font-size="7" dy="-4">st</tspan><tspan dy="4"> cycle</tspan></text>
<text x="539.3" y="391.8" font-size="11.0" font-weight="bold" text-anchor="start" fill="#5cb91f">NP Zn</text>
<line x1="535.2" y1="406.1" x2="564.4" y2="406.1" stroke="#56a82a" stroke-width="1.3"/>
<path d="M549.8 401.2 L554.04 403.65 L554.04 408.55 L549.8 411 L545.56 408.55 L545.56 403.65Z" fill="#4fa12a"/>
<text x="567.3" y="409.7" font-size="10.6" font-weight="bold" text-anchor="start" fill="#5cb91f">1<tspan font-size="7" dy="-4">st</tspan><tspan dy="4"> cycle</tspan></text>
<line x1="535.2" y1="423.2" x2="564.4" y2="423.2" stroke="#86cd86" stroke-width="1.3"/>
<path d="M549.8 418.3 L554.04 420.75 L554.04 425.65 L549.8 428.1 L545.56 425.65 L545.56 420.75Z" fill="#7fc78a"/>
<text x="567.3" y="426.8" font-size="10.6" font-weight="bold" text-anchor="start" fill="#92dca0">100<tspan font-size="7" dy="-4">th</tspan><tspan dy="4"> cycle</tspan></text>
<text x="534.6" y="560.3" font-size="11.0" font-weight="bold" text-anchor="start" fill="#4f82c8">Bulk Zn</text>
<line x1="533.8" y1="573.9" x2="562.2" y2="573.9" stroke="#4a54a6" stroke-width="1.3"/>
<rect x="543.95" y="570.25" width="7.3" height="7.3" fill="#2f3a94"/>
<text x="565.9" y="577.3" font-size="10.6" font-weight="bold" text-anchor="start" fill="#323c9c">1<tspan font-size="7" dy="-4">st</tspan><tspan dy="4"> cycle</tspan></text>
<line x1="533.8" y1="591.4" x2="562.2" y2="591.4" stroke="#3d7fbb" stroke-width="1.3"/>
<rect x="543.95" y="587.75" width="7.3" height="7.3" fill="#2c72b2"/>
<text x="565.9" y="594.6" font-size="10.6" font-weight="bold" text-anchor="start" fill="#2f74b4">100<tspan font-size="7" dy="-4">th</tspan><tspan dy="4"> cycle</tspan></text>
</svg>
</body></html>
